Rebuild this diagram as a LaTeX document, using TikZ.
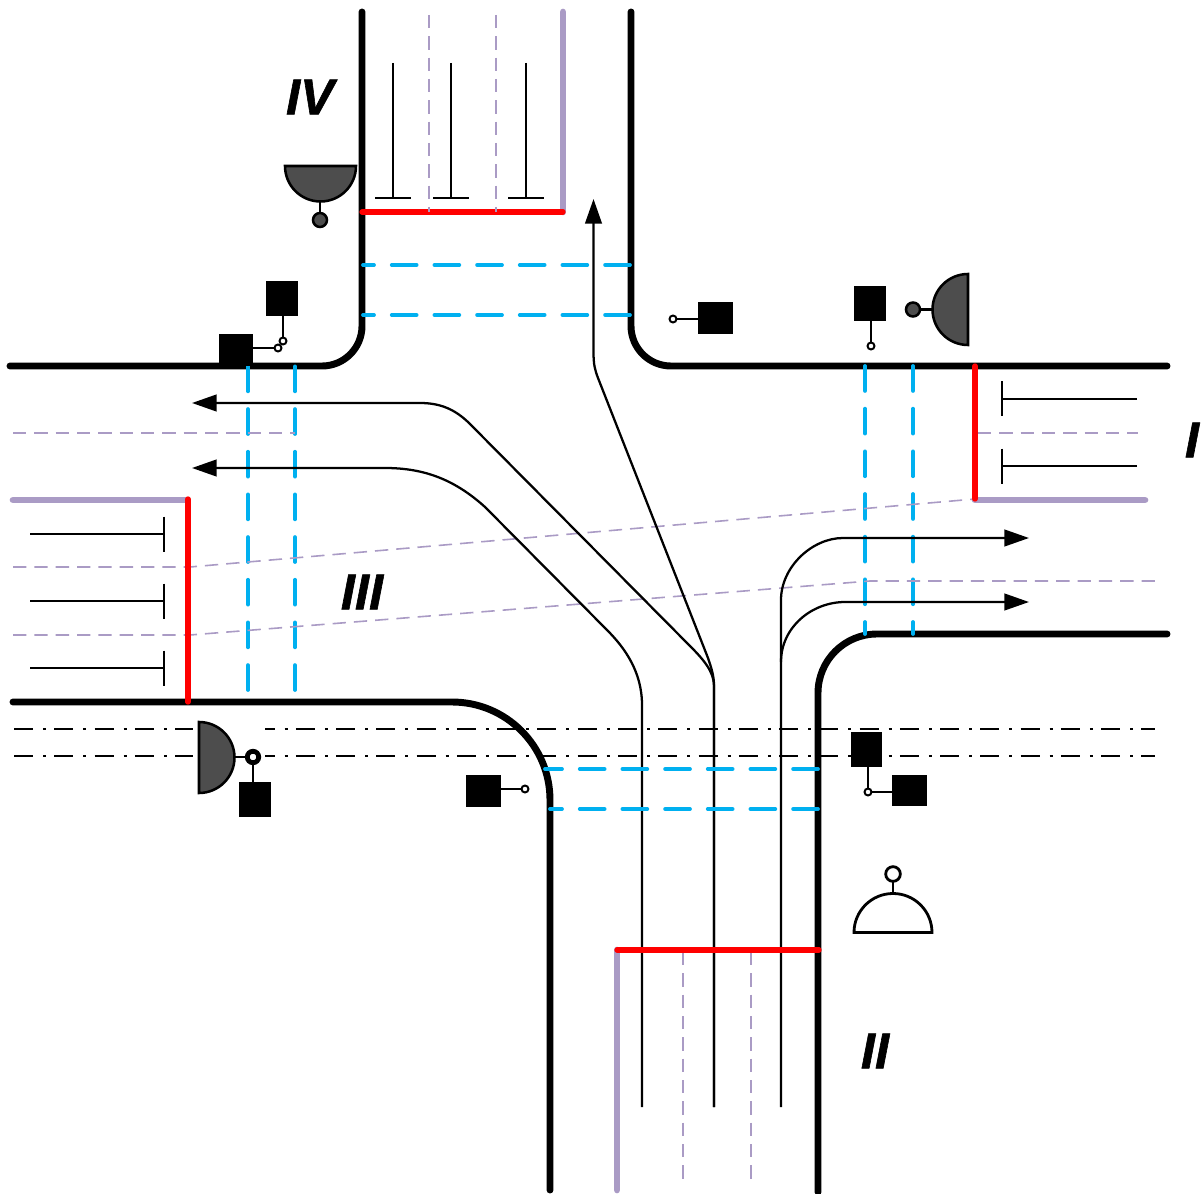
\documentclass[tikz,border=0pt]{standalone}
\usepackage{fontspec}
\setmainfont{Liberation Sans}
\newfontfamily\lblfont{Liberation Sans}[BoldItalicFeatures={FakeBold=1.2}]
\usetikzlibrary{arrows.meta}
\definecolor{lilac}{HTML}{AA9BC5}
\definecolor{sky}{HTML}{00B0F0}
\definecolor{signalgrey}{HTML}{4D4D4D}
\tikzset{
  road/.style={line width=5.2pt,line cap=round,black},
  edgeline/.style={line width=5pt,line cap=round,lilac},
  stopline/.style={line width=4pt,line cap=round,red},
  detectline/.style={draw=sky,line width=2.8pt,line cap=round,dash pattern=on 18.7pt off 13.3pt},
  lanediv/.style={line width=1.2pt,lilac,dash pattern=on 10pt off 6pt},
  rail/.style={line width=2pt,black,dash pattern=on 14.25pt off 7.5pt on 2.25pt off 6.2pt},
  lane/.style={line width=1.7pt,black},
  flow/.style={line width=1.7pt,black,-{Triangle[length=18.5pt,width=12.5pt]}},
  blk/.style={fill=black,draw=none},
  stem/.style={line width=1.5pt,black},
  smallc/.style={circle,draw=black,fill=white,line width=1.5pt,inner sep=0pt,minimum size=5.2pt},
  sig/.style={draw=black,fill=signalgrey,line width=1.9pt},
  lbl/.style={font=\lblfont\bfseries\itshape\fontsize{38}{38}\selectfont,inner sep=0pt}
}
\begin{document}
\begin{tikzpicture}[x=0.75pt,y=-0.75pt]
\useasboundingbox (0,0) rectangle (1203,1194);
% road edges
\draw[road] (362,12)--(362,326) arc[start angle=0,end angle=90,radius=40]--(10,366);
\draw[road] (631,12)--(631,326) arc[start angle=180,end angle=90,radius=40]--(1167,366);
\draw[road] (1167,634)--(877,634) arc[start angle=-90,end angle=-180,radius=59]--(818,1192);
\draw[road] (13,702)--(452,702) arc[start angle=-90,end angle=0,radius=98]--(550,1190);
% lane dividers, side arms
\draw[lanediv] (683,952)--(683,1182);
\draw[lanediv] (751,952)--(751,1182);
\draw[lanediv] (978,433)--(1138,433);
% rails
\draw[rail] (14,729)--(1155,729);
\draw[rail] (14,756)--(1155,756);
% detection, vertical
\foreach \x in {248,295}{\draw[detectline] (\x,690)--(\x,366);}
\foreach \x in {865,913}{\draw[detectline] (\x,366)--(\x,634);}
\draw[lanediv] (13,433)--(295,433);
\draw[lanediv] (13,567)--(190,567)--(975,499);
\draw[lanediv] (13,635)--(190,635)--(870,581)--(1155,581);
% detection, north arm
\foreach \y in {265,315}{\draw[detectline] (630,\y)--(363,\y);}
% lanes with stop bars
\foreach \x in {393,451,526}{\draw[lane] (\x,63)--(\x,198);\draw[lane] (\x-18,198)--(\x+18,198);}
\foreach \y in {399,466}{\draw[lane] (1137,\y)--(1002,\y);\draw[lane] (1002,\y-17.5)--(1002,\y+17.5);}
\foreach \y in {534,601,668}{\draw[lane] (30,\y)--(164,\y);\draw[lane] (164,\y-17.5)--(164,\y+17.5);}
% flows
\draw[flow] (714,1107)--(714,686) .. controls (714,675) and (711,667) .. (708,658)--(598,378) .. controls (595,370) and (593.5,365) .. (593.5,352)--(593.5,199);
\draw[flow] (714,1107)--(714,686) .. controls (714,672) and (704,660) .. (690,646)--(470,424) .. controls (455,409) and (440,403) .. (420,403)--(192,403);
\draw[flow] (642,1107)--(642,705) .. controls (642,672) and (625,648) .. (607,630)--(485,507) .. controls (455,480) and (425,468) .. (385,468)--(192,468);
\draw[flow] (781,1107)--(781,600) .. controls (781,567) and (812,538) .. (843,538)--(1029,538);
\draw[flow] (781,662) .. controls (781,627) and (812,602) .. (845,602)--(1029,602);
% detection, south arm
\draw[detectline] (818,769)--(545,769);
\draw[detectline] (818,809)--(550,809);
% edges and stop lines
\draw[edgeline] (563,12)--(563,212);
\draw[edgeline] (975,500)--(1145,500);
\draw[edgeline] (13,500)--(187,500);
\draw[edgeline] (617,950)--(617,1190);
\draw[stopline] (362,212)--(563,212);
\draw[stopline] (975,366)--(975,499);
\draw[stopline] (188,499)--(188,702);
\draw[stopline] (617,950)--(819,950);
\draw[lanediv] (429,15)--(429,212);
\draw[lanediv] (496,15)--(496,212);
% detectors NW
\fill[blk] (266,281) rectangle (298,316);
\fill[blk] (219,334) rectangle (253,366);
\draw[stem] (283,316)--(283,341);
\draw[stem] (253,348)--(278,348);
\node[smallc] (n1) at (283,341) {};
\node[smallc] (n2) at (278,348) {};
% detectors NE
\fill[blk] (698,302) rectangle (733,334);
\draw[stem] (698,319)--(673,319);
\node[smallc] (n3) at (673,319) {};
\fill[blk] (854,286) rectangle (886,321);
\draw[stem] (871,321)--(871,345);
\node[smallc] (n4) at (871,346) {};
% detectors S
\fill[blk] (466,775) rectangle (501,807);
\draw[stem] (501,789)--(525,789);
\node[smallc] (n5) at (525,789) {};
\fill[blk] (851,732) rectangle (882,767);
\fill[blk] (892,775) rectangle (927,806);
\draw[stem] (868,767)--(868,792);
\draw[stem] (868,792)--(892,792);
\node[smallc] (n6) at (868,792) {};
% signal IV
\draw[stem,line width=1.7pt] (320,200)--(320,214);
\draw[sig] (285,166)--(356,166) arc[start angle=0,end angle=180,radius=35.5]--cycle;
\node[circle,sig,inner sep=0pt,minimum size=10.5pt] (s4) at (320,220) {};
% signal I
\draw[stem,line width=1.7pt] (918,309.5)--(933,309.5);
\draw[sig] (968,274)--(968,345) arc[start angle=90,end angle=270,radius=35.5]--cycle;
\node[circle,sig,inner sep=0pt,minimum size=10.5pt] (s1) at (913,309.5) {};
% signal III
\fill[white] (193,716) rectangle (265,762);
\draw[stem,line width=1.7pt] (234,757)--(248,757);
\draw[sig] (199,722)--(199,793) arc[start angle=90,end angle=-90,radius=35.5]--cycle;
\node[circle,draw=black,fill=white,line width=3.6pt,inner sep=0pt,minimum size=8.6pt] (s3) at (253,757) {};
\fill[blk] (239,782) rectangle (271,817);
\draw[stem] (253,762)--(253,782);
% signal II
\draw[stem,line width=1.9pt] (893,880)--(893,894);
\draw[black,fill=white,line width=2.1pt] (854,932.5)--(932,932.5) arc[start angle=0,end angle=-180,radius=39]--cycle;
\node[circle,draw=black,fill=white,line width=2.1pt,inner sep=0pt,minimum size=11pt] (s2) at (893,874) {};
% labels
\node[lbl] (lIV) at (310,97) {IV};
\node[lbl] (lI) at (1192,440) {I};
\node[lbl] (lIII) at (362,592) {III};
\node[lbl] (lII) at (875,1051) {II};
\end{tikzpicture}
\end{document}
